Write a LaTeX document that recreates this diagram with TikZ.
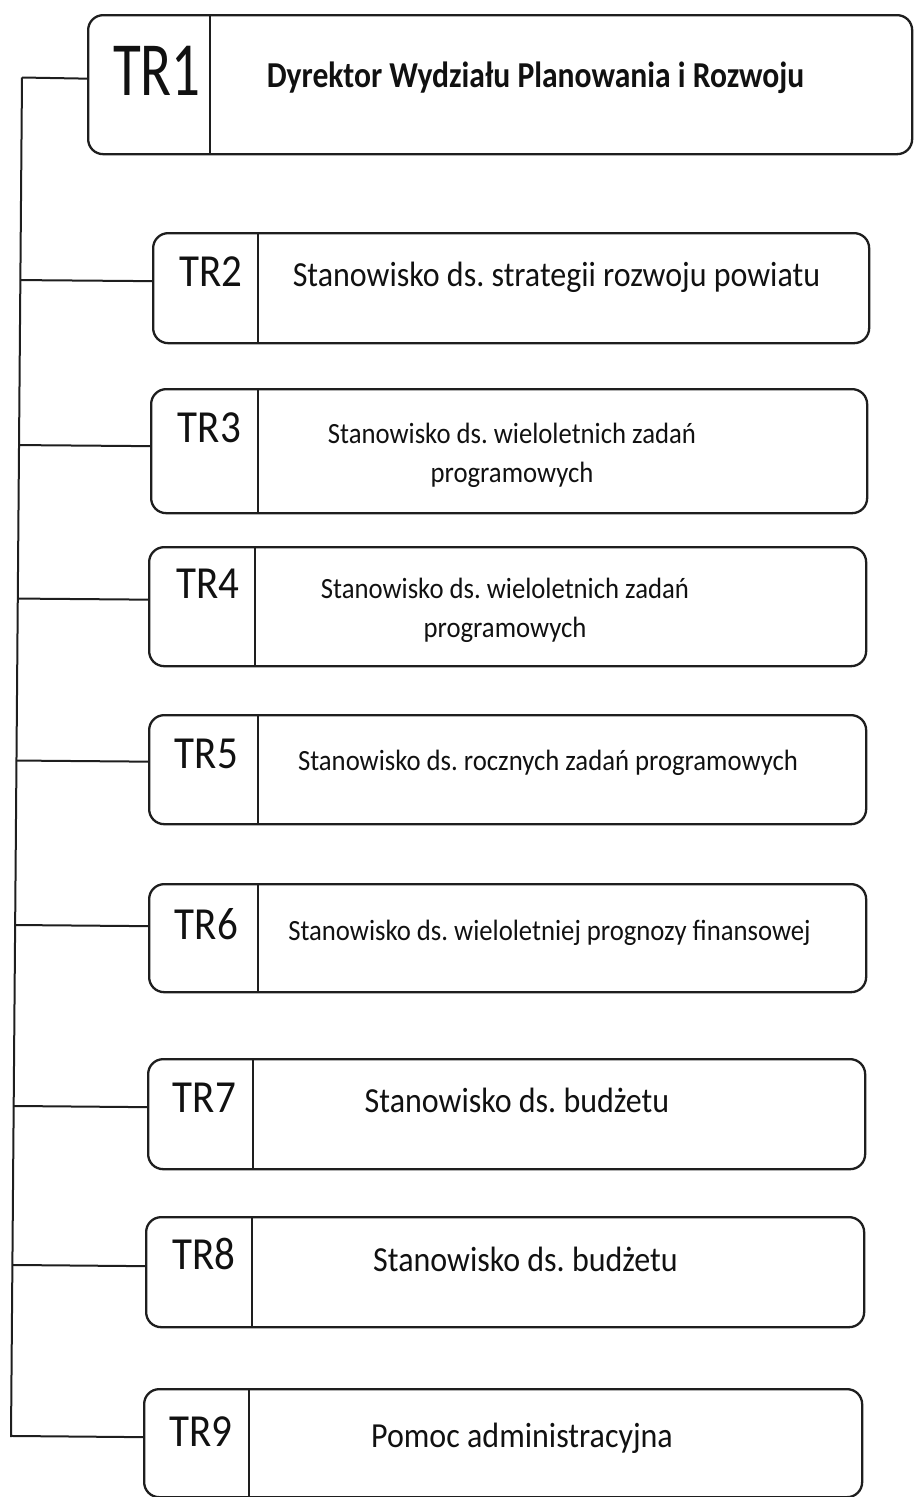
\documentclass[tikz,border=0pt]{standalone}
\usepackage{fontspec}
\setmainfont{Carlito}
\frenchspacing
\usetikzlibrary{positioning,calc}
\definecolor{lineink}{HTML}{1E1E1E}
\definecolor{textink}{HTML}{111111}
\tikzset{
  unit/.style={
    draw=lineink, rounded corners=15pt, line width=2.3pt,
    inner sep=0pt, anchor=north west,
  },
  divider/.style={draw=lineink, line width=1.6pt},
  link/.style   ={draw=lineink, line width=2pt},
  code/.style   ={font=\fontsize{41}{48}\selectfont, text=textink, inner sep=0pt,
                  anchor=base, yscale=1.12},
  post/.style   ={font=\fontsize{32}{38}\selectfont, text=textink, inner sep=0pt,
                  anchor=base, yscale=1.1},
  postsmall/.style={post, font=\fontsize{26.7}{36}\selectfont},
}

\begin{document}
\begin{tikzpicture}[x=1pt, y=-1pt]
\useasboundingbox (0,0) rectangle (914,1497);

% ---------------------------------------------------------------- head
\node[unit, minimum width=824pt, minimum height=139pt] (tr1) at (87,14) {};
\draw[divider] ([xshift=123pt]tr1.north west) -- ([xshift=123pt]tr1.south west);
\node[code, font=\fontsize{57}{64}\selectfont, yscale=1.2] (tr1code) at (157,95) {TR1};
\node[post, font=\bfseries\fontsize{31.6}{38}\selectfont, yscale=1.05] (tr1post) at (535.5,87)
  {Dyrektor Wydziału Planowania i Rozwoju};

% ---------------------------------------------------------------- posts
\node[unit, minimum width=716pt, minimum height=110pt] (tr2) at (152,232) {};
\draw[divider] ([xshift=106pt]tr2.north west) -- ([xshift=106pt]tr2.south west);
\node[code] (tr2code) at (211,286) {TR2};
\node[post] (tr2post) at (556.5,286) {Stanowisko ds. strategii rozwoju powiatu};

\node[unit, minimum width=716pt, minimum height=124pt] (tr3) at (150,388) {};
\draw[divider] ([xshift=108pt]tr3.north west) -- ([xshift=108pt]tr3.south west);
\node[code] (tr3code) at (209.5,442) {TR3};
\node[postsmall] (tr3post) at (512,443)
  {\begin{tabular}[t]{@{}c@{}}Stanowisko ds. wieloletnich zadań\\programowych\end{tabular}};

\node[unit, minimum width=717pt, minimum height=119pt] (tr4) at (148,546) {};
\draw[divider] ([xshift=107pt]tr4.north west) -- ([xshift=107pt]tr4.south west);
\node[code] (tr4code) at (208,598) {TR4};
\node[postsmall] (tr4post) at (505,598)
  {\begin{tabular}[t]{@{}c@{}}Stanowisko ds. wieloletnich zadań\\programowych\end{tabular}};

\node[unit, minimum width=717pt, minimum height=109pt] (tr5) at (148,714) {};
\draw[divider] ([xshift=110pt]tr5.north west) -- ([xshift=110pt]tr5.south west);
\node[code] (tr5code) at (206.5,768) {TR5};
\node[postsmall] (tr5post) at (548,770) {Stanowisko ds. rocznych zadań programowych};

\node[unit, minimum width=717pt, minimum height=108pt] (tr6) at (148,883) {};
\draw[divider] ([xshift=110pt]tr6.north west) -- ([xshift=110pt]tr6.south west);
\node[code] (tr6code) at (206.5,939) {TR6};
\node[postsmall] (tr6post) at (549.5,940) {Stanowisko ds. wieloletniej prognozy finansowej};

\node[unit, minimum width=717pt, minimum height=110pt] (tr7) at (147,1058) {};
\draw[divider] ([xshift=106pt]tr7.north west) -- ([xshift=106pt]tr7.south west);
\node[code] (tr7code) at (204.5,1112) {TR7};
\node[post] (tr7post) at (517,1112) {Stanowisko ds. budżetu};

\node[unit, minimum width=718pt, minimum height=110pt] (tr8) at (145,1216) {};
\draw[divider] ([xshift=107pt]tr8.north west) -- ([xshift=107pt]tr8.south west);
\node[code] (tr8code) at (204,1269) {TR8};
\node[post] (tr8post) at (525.5,1271) {Stanowisko ds. budżetu};

\node[unit, minimum width=718pt, minimum height=108pt] (tr9) at (143,1388) {};
\draw[divider] ([xshift=106pt]tr9.north west) -- ([xshift=106pt]tr9.south west);
\node[code] (tr9code) at (201,1446) {TR9};
\node[post] (tr9post) at (522,1447) {Pomoc administracyjna};

% ---------------------------------------------------------------- spine
\coordinate (spinetop) at (22,77.5);
\coordinate (spinebot) at (11,1437);
\draw[link] (spinetop) -- (spinebot);
\draw[link] (spinetop) -- ([yshift=6pt]tr1.west);
\foreach \n/\lift in {2/7,3/5,4/7,5/8,6/12,7/7,8/6,9/6} {
  \coordinate (tap\n) at ([yshift=\lift pt]tr\n.west);
  \draw[link] (tap\n) -- ($(spinetop)!(tap\n)!(spinebot)$);
}

\end{tikzpicture}
\end{document}
